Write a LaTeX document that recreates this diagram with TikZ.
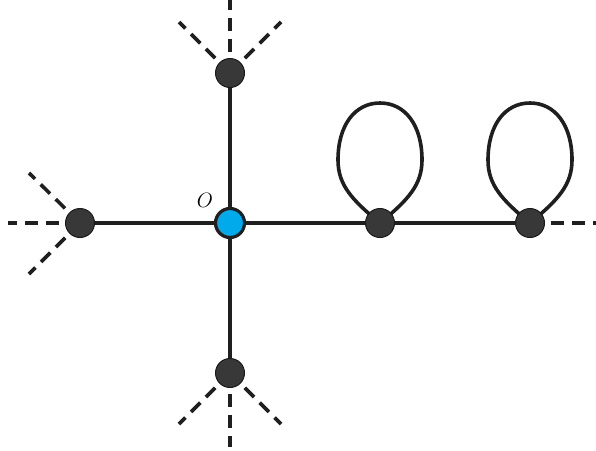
\documentclass[tikz,border=0pt]{standalone}
\begin{document}
\begin{tikzpicture}[x=1pt,y=-1pt,
  edge/.style={line width=3.6pt,color=black!88},
  dashedge/.style={line width=3.6pt,color=black!88,dash pattern=on 13pt off 8pt},
  vtx/.style={circle,fill=black!78,draw=black!90,line width=1pt,minimum size=29pt,inner sep=0pt},
  orig/.style={circle,fill={rgb,255:red,0;green,170;blue,235},draw=black!88,line width=3.2pt,minimum size=29pt,inner sep=0pt},
  loopedge/.style={line width=3.6pt,color=black!88}]
\useasboundingbox (0,0) rectangle (596,450);
\coordinate (O) at (230,223);
\coordinate (T) at (230,73);
\coordinate (L) at (80,223);
\coordinate (B) at (230,373);
\coordinate (R1) at (380,223);
\coordinate (R2) at (530,223);
% dashed ends
\coordinate (t1) at (230,0);
\coordinate (t2) at (179,22);
\coordinate (t3) at (281,22);
\coordinate (l1) at (8,223);
\coordinate (l2) at (29,173);
\coordinate (l3) at (29,274);
\coordinate (b1) at (230,447);
\coordinate (b2) at (179,424);
\coordinate (b3) at (281,424);
\coordinate (r1) at (596,223);
% solid edges
\draw[edge] (T) -- (B);
\draw[edge] (L) -- (R2);
% loops
\draw[loopedge] (R1) .. controls (352,200) and (338,185) .. (338,160) .. controls (338,125) and (355,103) .. (380,103) .. controls (405,103) and (422,125) .. (422,160) .. controls (422,185) and (408,200) .. (R1);
\draw[loopedge] (R2) .. controls (502,200) and (488,185) .. (488,160) .. controls (488,125) and (505,103) .. (530,103) .. controls (555,103) and (572,125) .. (572,160) .. controls (572,185) and (558,200) .. (R2);
% dashed edges
\draw[dashedge] (T) -- (t1);
\draw[dashedge] (T) -- (t2);
\draw[dashedge] (T) -- (t3);
\draw[dashedge] (L) -- (l1);
\draw[dashedge] (L) -- (l2);
\draw[dashedge] (L) -- (l3);
\draw[dashedge] (B) -- (b1);
\draw[dashedge] (B) -- (b2);
\draw[dashedge] (B) -- (b3);
\draw[dashedge] (R2) -- (r1);
% nodes
\node[orig] (nO) at (O) {};
\node[vtx] (nT) at (T) {};
\node[vtx] (nL) at (L) {};
\node[vtx] (nB) at (B) {};
\node[vtx] (nR1) at (R1) {};
\node[vtx] (nR2) at (R2) {};
\node[font=\fontsize{21}{24}\selectfont] (lab) at (205,200) {$O$};
\end{tikzpicture}
\end{document}
